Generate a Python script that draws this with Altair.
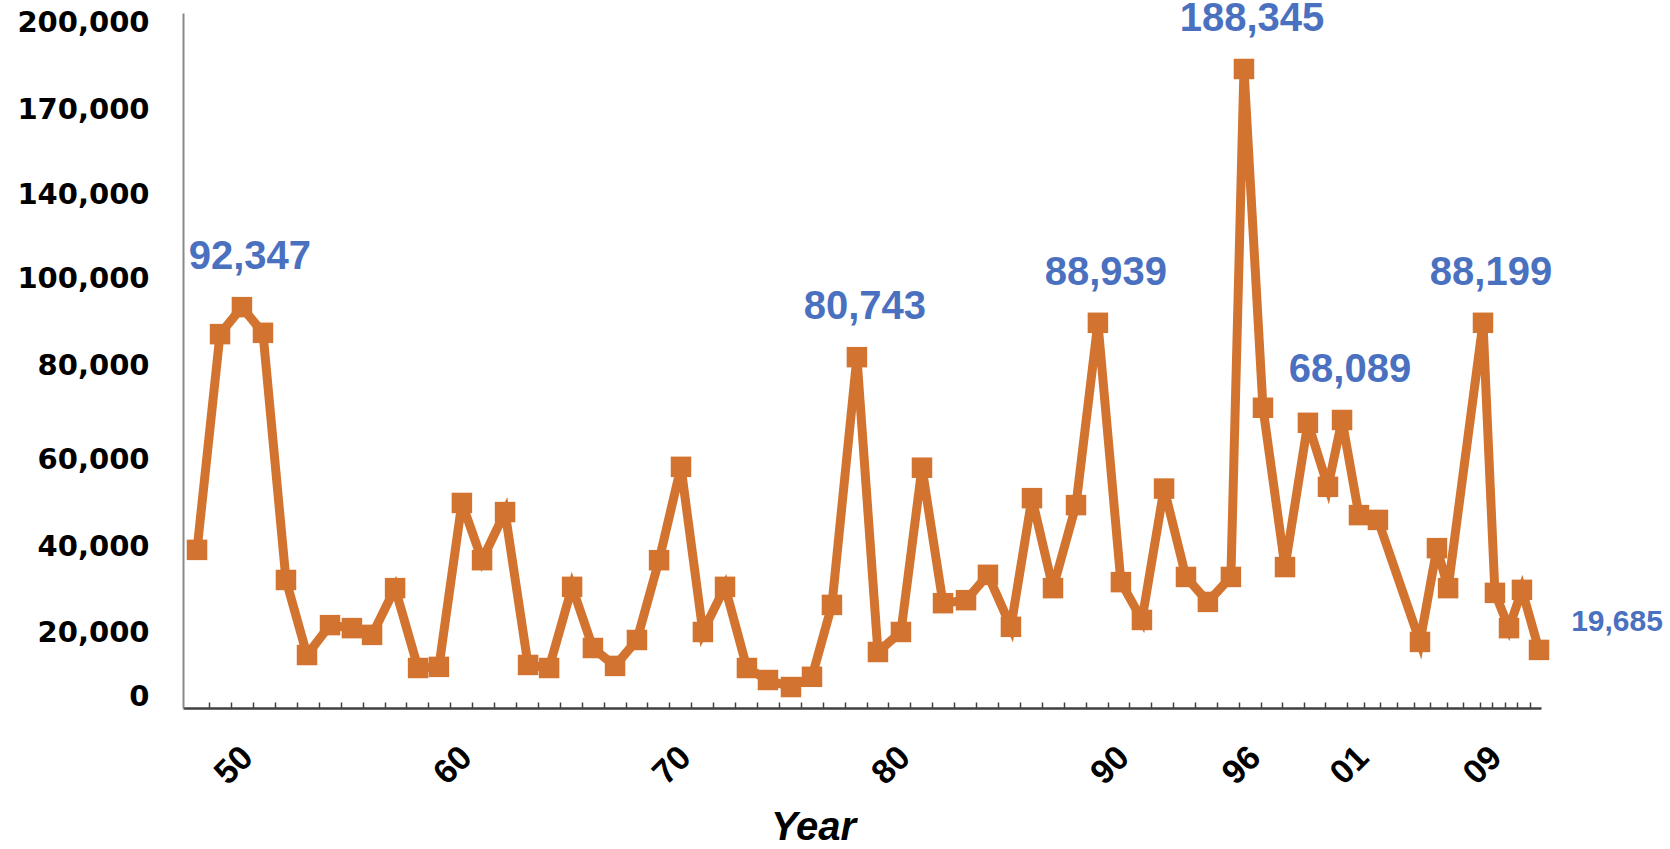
import altair as alt
import pandas as pd

# ---- data ----
YEAR = [1948.44, 1949.49, 1950.49, 1951.45, 1952.50, 1953.46, 1954.51, 1955.51, 1956.43, 1957.48,
        1958.53, 1959.48, 1960.53, 1961.45, 1962.50, 1963.55, 1964.51, 1965.56, 1966.51, 1967.52,
        1968.52, 1969.53, 1970.53, 1971.53, 1972.54, 1973.54, 1974.50, 1975.55, 1976.51, 1977.42,
        1978.56, 1979.52, 1980.57, 1981.53, 1982.49, 1983.54, 1984.54, 1985.59, 1986.55, 1987.51,
        1988.56, 1989.56, 1990.61, 1991.57, 1992.58, 1993.58, 1994.58, 1995.63, 1996.23, 1997.11,
        1998.13, 1999.19, 2000.12, 2000.77, 2001.72, 2002.86, 2005.39, 2006.41, 2007.08, 2009.24,
        2010.20, 2011.33, 2012.37, 2013.74]
VALUE = [39100, 87100, 93300, 87400, 32100, 12800, 21600, 20900, 19100, 30200,
         8750, 9100, 49900, 36700, 47800, 9700, 8750, 30500, 15000, 9400,
         17500, 36700, 58200, 20000, 30500, 8750, 5000, 2800, 6000, 26300,
         81800, 13750, 20000, 58000, 26700, 27400, 33300, 21200, 51000, 30200,
         49400, 89700, 31600, 22800, 53200, 32800, 27000, 32800, 183800, 70900,
         35100, 67700, 53600, 68300, 47100, 46000, 16900, 39500, 30200, 89700,
         29100, 20900, 29800, 14400]

PEAK_IDX = [2, 30, 41, 48, 53, 59]
PEAK_TEXT = ["92,347", "80,743", "88,939", "188,345", "68,089", "88,199"]
LAST_IDX = [63]
LAST_TEXT = ["19,685"]

Y_TICKS = [0, 20000, 40000, 60000, 80000, 100000, 140000, 170000, 200000]
X_LABEL_YEARS = [1950, 1960, 1970, 1980, 1990, 1996, 2001, 2009]
X_LABEL_TEXT = ["50", "60", "70", "80", "90", "96", "01", "09"]
X_MINOR_TICKS = list(range(1949, 2014))

# ---- layout / style ----
W, H = 1358, 695
ORANGE = "#D27430"
BLUE = "#4A70C0"

# the reference's axes are not linear: piecewise scales reproduce them
x_scale = alt.Scale(domain=[1947.8, 1996, 2001, 2009, 2013.9],
                    range=[0, 1056, 1164, 1297, 1358], nice=False, zero=False)
y_scale = alt.Scale(domain=[-3750] + Y_TICKS + [203100],
                    range=[695, 683, 619, 533, 446, 352, 265, 181, 96, 9, 0],
                    nice=False, zero=False)

df = pd.DataFrame({"year": YEAR, "value": VALUE})
df_peak = pd.DataFrame({"year": [YEAR[i] for i in PEAK_IDX],
                        "value": [VALUE[i] for i in PEAK_IDX],
                        "label": PEAK_TEXT})
df_last = pd.DataFrame({"year": [YEAR[i] for i in LAST_IDX],
                        "value": [VALUE[i] for i in LAST_IDX],
                        "label": LAST_TEXT})

label_expr = " : ".join(
    f"datum.value == {y} ? '{t}'" for y, t in zip(X_LABEL_YEARS, X_LABEL_TEXT)
) + " : ''"

y_axis = alt.Axis(values=Y_TICKS, labelExpr="format(datum.value, ',')",
                  ticks=False, grid=False, tickSize=0,
                  labelFont="DejaVu Sans", labelFontSize=29, labelFontWeight="bold",
                  labelColor="#000000", labelPadding=34, domainColor="#8a8a8a",
                  domainWidth=2, title=None)

x_axis_main = alt.Axis(values=X_LABEL_YEARS, labelExpr=label_expr, ticks=False, tickSize=0,
                       grid=False, labelAngle=315, labelAlign="right", labelBaseline="middle",
                       labelFont="Liberation Sans", labelFontSize=34, labelFontWeight="bold",
                       labelColor="#000000", labelPadding=44, labelOffset=16,
                       domainColor="#404040", domainWidth=2.5,
                       title="Year", titleFont="Liberation Sans", titleFontSize=40,
                       titleFontWeight="bold", titleFontStyle="italic", titleColor="#000000",
                       titleX=630, titleY=119, titleAlign="center", titleBaseline="middle")

x_axis_ticks = alt.Axis(orient="top", offset=-H, values=X_MINOR_TICKS, labels=False,
                        domain=False, ticks=True, tickSize=6, tickWidth=1.5,
                        tickColor="#404040", grid=False, title=None)

line = alt.Chart(df).mark_line(color=ORANGE, strokeWidth=9).encode(
    x=alt.X("year:Q", scale=x_scale, axis=x_axis_main),
    y=alt.Y("value:Q", scale=y_scale, axis=y_axis),
)

ticks = alt.Chart(df).mark_point(opacity=0).encode(
    x=alt.X("year:Q", scale=x_scale, axis=x_axis_ticks),
    y=alt.Y("value:Q", scale=y_scale, axis=y_axis),
)

points = alt.Chart(df).mark_square(size=420, color=ORANGE, opacity=1).encode(
    x=alt.X("year:Q", scale=x_scale, axis=None),
    y=alt.Y("value:Q", scale=y_scale, axis=y_axis),
)

peaks = alt.Chart(df_peak).mark_text(
    font="Liberation Sans", fontSize=40, fontWeight="bold", color=BLUE,
    align="center", baseline="middle", dx=8, dy=-50
).encode(
    x=alt.X("year:Q", scale=x_scale, axis=None),
    y=alt.Y("value:Q", scale=y_scale, axis=y_axis),
    text="label:N",
)

last = alt.Chart(df_last).mark_text(
    font="Liberation Sans", fontSize=30, fontWeight="bold", color=BLUE,
    align="center", baseline="middle", dx=78, dy=-28
).encode(
    x=alt.X("year:Q", scale=x_scale, axis=None),
    y=alt.Y("value:Q", scale=y_scale, axis=y_axis),
    text="label:N",
)

chart = alt.layer(line, ticks, points, peaks, last).resolve_axis(
    x="independent"
).properties(
    width=W, height=H,
    autosize=alt.AutoSizeParams(type="none"),
    padding={"left": 183, "top": 13, "right": 129, "bottom": 141},
    background="#ffffff",
).configure_view(stroke=None)

chart.save("out.html", embed_options={"renderer": "svg", "actions": False})
